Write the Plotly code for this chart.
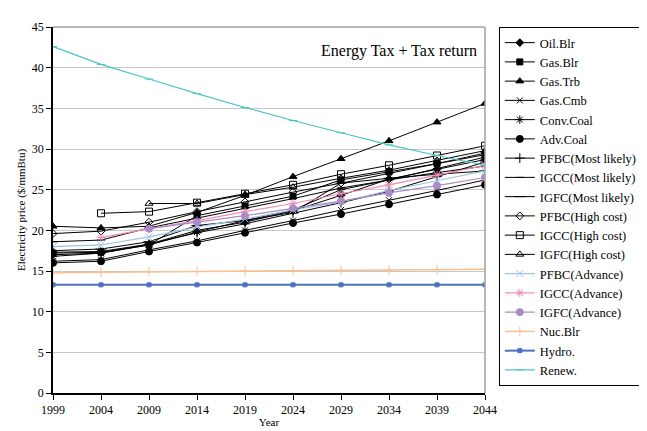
import plotly.graph_objects as go

years = [1999, 2004, 2009, 2014, 2019, 2024, 2029, 2034, 2039, 2044]

names = ["Oil.Blr", "Gas.Blr", "Gas.Trb", "Gas.Cmb", "Conv.Coal", "Adv.Coal",
         "PFBC(Most likely)", "IGCC(Most likely)", "IGFC(Most likely)",
         "PFBC(High cost)", "IGCC(High cost)", "IGFC(High cost)",
         "PFBC(Advance)", "IGCC(Advance)", "IGFC(Advance)",
         "Nuc.Blr", "Hydro.", "Renew."]

oil_blr = [17.3, 17.4, 18.3, 20.0, 21.0, 22.4, 24.3, 26.3, 27.5, 28.7]
gas_blr = [17.2, 17.3, 18.2, 21.8, 23.0, 24.2, 26.2, 27.2, 28.2, 29.3]
gas_trb = [20.5, 20.3, 20.5, 22.2, 24.3, 26.6, 28.8, 31.0, 33.3, 35.6]
gas_cmb = [16.2, 16.4, 17.6, 18.7, 20.0, 21.2, 22.5, 23.7, 24.9, 26.2]
conv_coal = [16.8, 17.2, 18.2, 19.8, 21.2, 22.5, 25.0, 26.2, 27.6, 29.0]
adv_coal = [16.0, 16.2, 17.4, 18.5, 19.7, 20.9, 22.0, 23.2, 24.4, 25.6]
pfbc_ml = [17.0, 17.2, 18.3, 19.7, 20.8, 22.1, 23.4, 24.8, 26.6, 28.4]
igcc_ml = [18.6, 18.8, 20.3, 21.5, 22.7, 23.9, 25.2, 26.2, 27.1, 27.9]
igfc_ml = [17.5, 17.7, 18.6, 20.6, 21.2, 22.2, 25.8, 26.4, 26.9, 27.3]
pfbc_hc = [19.6, 19.9, 21.0, 22.3, 23.5, 24.7, 25.8, 27.0, 28.2, 29.5]
igcc_hc = [None, 22.1, 22.3, 23.4, 24.5, 25.6, 26.9, 28.0, 29.2, 30.4]
igfc_hc = [None, None, 23.3, 23.3, 24.4, 25.3, 26.4, 27.4, 28.6, 29.8]
pfbc_adv = [18.0, 18.2, 19.2, 20.4, 21.4, 22.5, 23.5, 24.9, 26.1, 27.3]
igcc_adv = [None, 19.1, 20.2, 21.2, 22.3, 23.3, 24.5, 25.6, 26.8, 28.0]
igfc_adv = [None, None, 20.2, 21.0, 21.8, 22.7, 23.6, 24.6, 25.5, 26.5]
nuc_blr = [14.8, 14.85, 14.9, 14.95, 15.0, 15.05, 15.1, 15.1, 15.15, 15.2]
hydro = [13.3, 13.3, 13.3, 13.3, 13.3, 13.3, 13.3, 13.3, 13.3, 13.3]
renew = [42.6, 40.4, 38.6, 36.8, 35.1, 33.5, 32.0, 30.5, 29.2, 28.0]

series = [oil_blr, gas_blr, gas_trb, gas_cmb, conv_coal, adv_coal,
          pfbc_ml, igcc_ml, igfc_ml, pfbc_hc, igcc_hc, igfc_hc,
          pfbc_adv, igcc_adv, igfc_adv, nuc_blr, hydro, renew]

K = "#000000"
styles = [
    (K, "diamond", 6, 1),
    (K, "square", 6, 1),
    (K, "triangle-up", 7, 1),
    (K, "x-thin", 6, 1),
    (K, "asterisk", 7, 1),
    (K, "circle", 7, 1),
    (K, "cross-thin", 7, 1),
    (K, "line-ew", 6, 1),
    (K, "line-ew", 8, 1),
    (K, "diamond-open", 6, 1),
    (K, "square-open", 7, 1),
    (K, "triangle-up-open", 7, 1),
    ("#9DC3E6", "x-thin", 7, 1.2),
    ("#F08CB4", "asterisk", 7, 1.2),
    ("#A98BC8", "circle", 7, 1.2),
    ("#FAC090", "cross-thin", 7, 1.5),
    ("#4F6FC0", "square", 4, 2),
    ("#4BC4C4", "line-ew", 6, 1.2),
]

SERIF = "Times New Roman, Liberation Serif, serif"

fig = go.Figure()
for i, (nm, vals) in enumerate(zip(names, series)):
    col, sym, sz, lw = styles[i]
    fig.add_trace(go.Scatter(
        x=years, y=vals, name=nm, mode="lines+markers",
        line=dict(color=col, width=lw),
        marker=dict(symbol=sym, size=sz, color=col,
                    line=dict(color=col, width=1)),
        connectgaps=False,
    ))

fig.add_annotation(x=0.985, y=0.935, xref="paper", yref="paper",
                   text="Energy Tax + Tax return", showarrow=False,
                   xanchor="right", yanchor="middle",
                   font=dict(family=SERIF, size=16, color="black"))

fig.add_shape(type="line", xref="paper", yref="paper", x0=0, x1=1, y0=1, y1=1,
              line=dict(color="#A0A0A0", width=1.5))
fig.add_shape(type="line", xref="paper", yref="paper", x0=1, x1=1, y0=0, y1=1,
              line=dict(color="#A0A0A0", width=1.5))

fig.update_layout(
    width=647, height=431,
    margin=dict(l=39, r=164, t=14, b=37),
    paper_bgcolor="white", plot_bgcolor="white",
    font=dict(family=SERIF, size=12, color="black"),
    showlegend=True,
    legend=dict(x=1.032, y=1.0, xanchor="left", yanchor="top",
                bordercolor="black", borderwidth=1,
                font=dict(family=SERIF, size=12.5, color="black"),
                tracegroupgap=0, traceorder="normal",
                itemwidth=30),
    xaxis=dict(range=[1999, 2044], tickmode="array", tickvals=years,
               showgrid=False, showline=True, linecolor="black", linewidth=1.5,
               ticks="outside", ticklen=5, tickcolor="black",
               zeroline=False,
               title=dict(text="Year", font=dict(size=11), standoff=2)),
    yaxis=dict(range=[0, 45], dtick=5, showgrid=True, gridcolor="#C8C8C8",
               showline=True, linecolor="black", linewidth=1.5,
               ticks="outside", ticklen=5, tickcolor="black",
               zeroline=False,
               title=dict(text="Electricity price ($/mmBtu)", font=dict(size=11),
                          standoff=4)),
)

fig.write_html("out.html")
